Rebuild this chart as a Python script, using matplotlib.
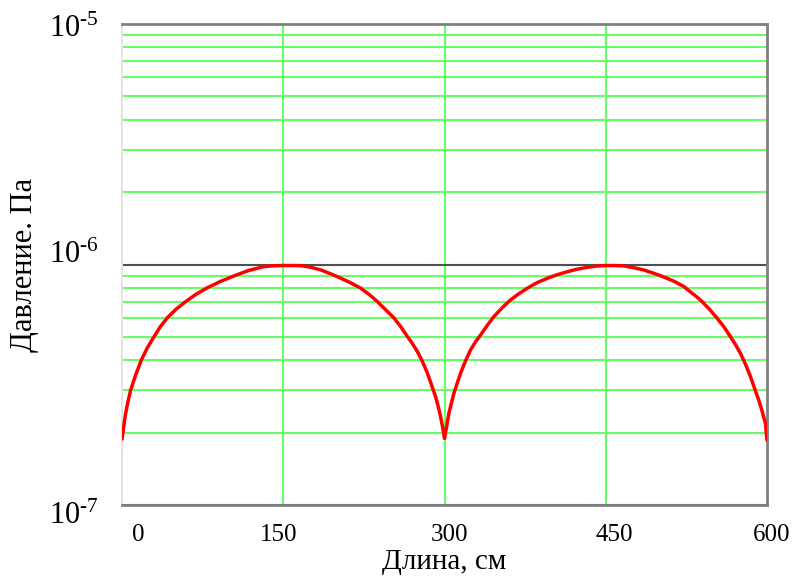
import matplotlib
matplotlib.use("Agg")
import matplotlib.pyplot as plt
from matplotlib.ticker import LogLocator, FixedLocator, NullFormatter
from matplotlib.transforms import ScaledTranslation

plt.rcParams['font.family'] = ['Liberation Serif', 'DejaVu Serif']
plt.rcParams['mathtext.fontset'] = 'custom'
plt.rcParams['mathtext.rm'] = 'Liberation Serif'
plt.rcParams['mathtext.it'] = 'Liberation Serif'

# Data (x in cm, pressure in units of 1e-7 Pa)
length_cm = [0, 1.2, 3.0, 5.0, 8.0, 12.5, 17.9, 23.5, 29.7, 35.5, 42.1, 50, 59.1, 68.5, 79.3,
             91.5, 105.1, 118, 132, 141, 150, 158, 166, 175, 184.7, 194, 203.3, 212.5,
             221.9, 230, 237.4, 245, 252.9, 259.5, 265.3, 270, 274.6, 279.5, 283.9, 288,
             291.6, 294, 296.3, 298.3, 300, 302, 304, 308.7, 314.9, 319.5, 324.2, 329,
             333.5, 340, 345.9, 353.5, 361.4, 369, 376.9, 386, 395.5, 404.5, 414.1, 423,
             432.7, 441, 450, 458, 466.8, 476, 485.4, 496, 507.1, 515, 522.6, 530, 538.1,
             546, 553.6, 560, 566, 571, 575.3, 580, 584.6, 588.5, 592.3, 595.5, 598.5, 600]
pressure_e7 = [1.88, 2.05, 2.35, 2.62, 3.0, 3.45, 4.0, 4.5, 5.0, 5.5, 6.0, 6.5, 7.0, 7.5, 8.0,
               8.5, 9.0, 9.45, 9.8, 9.88, 9.9, 9.9, 9.89, 9.75, 9.5, 9.15, 8.78, 8.4,
               7.98, 7.5, 7.02, 6.5, 6.0, 5.5, 5.03, 4.7, 4.36, 3.95, 3.55, 3.15,
               2.83, 2.58, 2.34, 2.1, 1.89, 2.12, 2.40, 2.91, 3.53, 3.97, 4.41, 4.78,
               5.09, 5.6, 6.07, 6.6, 7.12, 7.55, 7.96, 8.4, 8.76, 9.06, 9.33, 9.55,
               9.73, 9.85, 9.9, 9.9, 9.87, 9.7, 9.49, 9.15, 8.76, 8.45, 8.1, 7.62, 7.12,
               6.55, 5.98, 5.5, 5.01, 4.62, 4.27, 3.85, 3.42, 3.05, 2.73, 2.45, 2.19, 1.86]
pressure = [v * 1e-7 for v in pressure_e7]

x_ticks = [0, 150, 300, 450, 600]
x_tick_labels = ['0', '150', '300', '450', '600']
y_ticks = [1e-7, 1e-6, 1e-5]
y_tick_labels = [r'$10^{\text{-}7}$', r'$10^{\text{-}6}$', r'$10^{\text{-}5}$']

fig = plt.figure(figsize=(7.95, 5.8), dpi=100)
ax = fig.add_axes([122 / 795, 1 - 505 / 580, (767 - 122) / 795, (505 - 24) / 580])

ax.set_yscale('log')
ax.set_xlim(0, 600)
ax.set_ylim(1e-7, 1e-5)

# grid
ax.yaxis.set_minor_locator(LogLocator(base=10, subs=[2, 3, 4, 5, 6, 7, 8, 9]))
ax.yaxis.set_minor_formatter(NullFormatter())
ax.yaxis.grid(True, which='minor', color='#66ff66', lw=1.5, zorder=1)
ax.yaxis.grid(True, which='major', color='#505050', lw=1.5, zorder=1.2)
for xv in x_ticks[1:-1]:
    ax.axvline(xv, color='#66ff66', lw=1.5, zorder=1)

ax.plot(length_cm, pressure, color='#ff0000', lw=2.5, zorder=3,
        solid_joinstyle='round', solid_capstyle='round')

ax.xaxis.set_major_locator(FixedLocator(x_ticks))
ax.set_xticklabels(x_tick_labels, fontsize=18)
ax.set_yticks(y_ticks)
ax.set_yticklabels(y_tick_labels, fontsize=22)
ax.tick_params(axis='both', which='both', length=0)
ax.tick_params(axis='x', pad=14)
ax.tick_params(axis='y', pad=17)

# Mathcad-like label offsets (pixels)
x_off = [16, -5, 5, 9, 5]
for lab, dx in zip(ax.get_xticklabels(), x_off):
    lab.set_transform(lab.get_transform() + ScaledTranslation(dx / 100, 0, fig.dpi_scale_trans))
y_off = [-8, 13, -2]
for lab, dy in zip(ax.get_yticklabels(), y_off):
    lab.set_transform(lab.get_transform() + ScaledTranslation(0, dy / 100, fig.dpi_scale_trans))

for side in ['top', 'bottom', 'right']:
    ax.spines[side].set_color('#808080')
    ax.spines[side].set_linewidth(2)
ax.spines['left'].set_color('#e4e4e4')
ax.spines['left'].set_linewidth(1.5)

ax.set_xlabel('Длина, см', fontsize=21, labelpad=2)
ax.set_ylabel('Давление. Па', fontsize=22, labelpad=7)

fig.savefig('out.png', dpi=100)
